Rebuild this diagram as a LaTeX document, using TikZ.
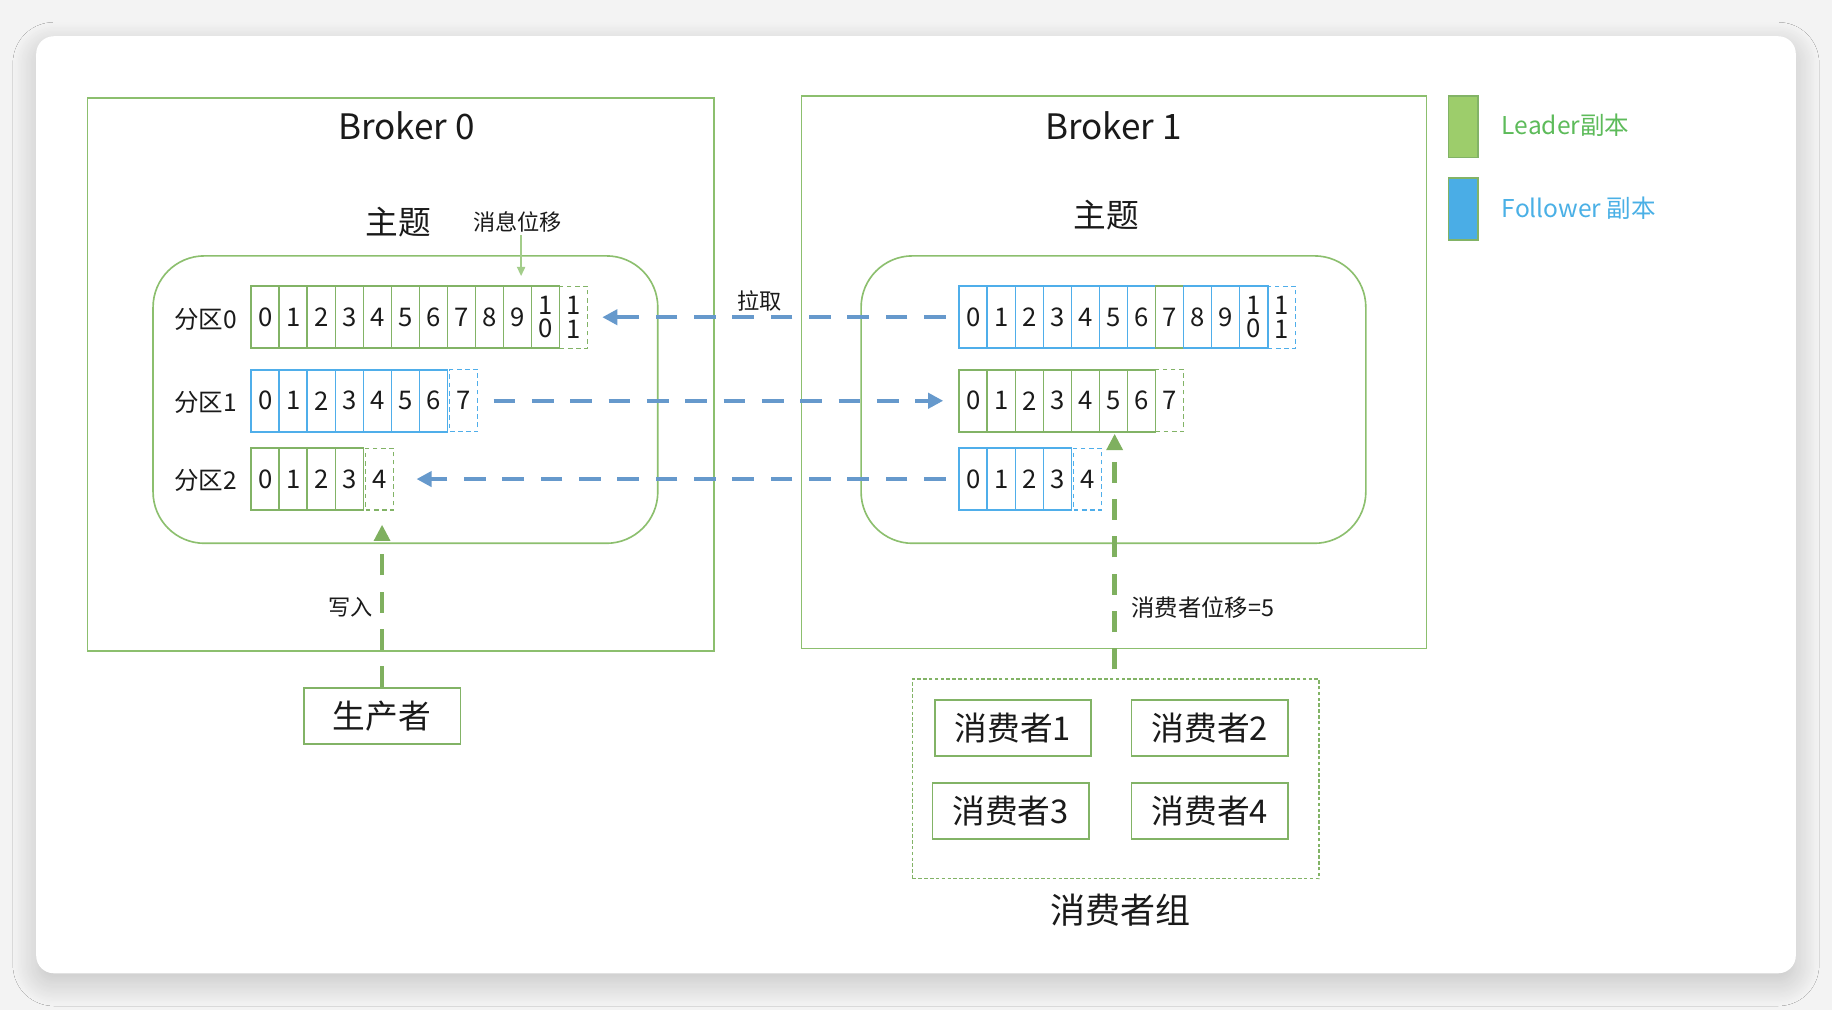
\documentclass[tikz,border=0pt]{standalone}
\usepackage{fontspec}
\setmainfont{Noto Sans CJK SC}
\usetikzlibrary{arrows.meta,shadows.blur,calc}
\definecolor{gline}{HTML}{8CBF6E}
\definecolor{gcell}{HTML}{82B366}
\definecolor{bcell}{HTML}{4FAEEA}
\definecolor{barrow}{HTML}{6699CC}
\definecolor{garrow}{HTML}{7FB05F}
\definecolor{lgfill}{HTML}{9DCD6B}
\definecolor{lbfill}{HTML}{4AADE6}
\definecolor{lgtext}{HTML}{5DBB5A}
\definecolor{lbtext}{HTML}{4AB0E6}
\definecolor{msgarrow}{HTML}{A3CD8A}
\definecolor{txt}{HTML}{1A1A1A}
\definecolor{outerbg}{HTML}{F3F3F3}
\begin{document}
\begin{tikzpicture}[x=0.5pt,y=-0.5pt,
  cellbox/.style={minimum width=12pt,minimum height=26.5pt,inner sep=0pt,line width=0.7pt,
    text=txt,font=\fontsize{11pt}{10pt}\selectfont,align=center},
  gc/.style={cellbox,draw=gcell},
  bc/.style={cellbox,draw=bcell},
  gd/.style={cellbox,draw=gcell,dash pattern=on 2pt off 1.5pt,line width=0.5pt},
  bd/.style={cellbox,draw=bcell,dash pattern=on 2pt off 1.5pt,line width=0.5pt},
  broker/.style={draw=gline,line width=0.6pt,minimum height=236.5pt,inner sep=0pt},
  topicbox/.style={draw=gline,line width=0.7pt,rounded corners=22pt,minimum width=216pt,minimum height=123pt,inner sep=0pt},
  plainbox/.style={draw=gcell,line width=0.7pt,minimum width=67pt,minimum height=24pt,inner sep=0pt,
    font=\fontsize{14pt}{16pt}\selectfont,text=txt},
  lbl/.style={text=txt,inner sep=1pt},
  barr/.style={draw=barrow,line width=1.7pt,dash pattern=on 9.3pt off 7.1pt,-{Triangle[length=6.5pt,width=6.5pt]}},
  garr/.style={draw=garrow,line width=2pt,dash pattern=on 9pt off 7pt,-{Triangle[length=7pt,width=6.7pt]}}
]
\useasboundingbox (0,0) rectangle (1568,864.4);
\fill[outerbg] (0,0) rectangle (1568,864.4);
\path[fill=white,rounded corners=7.5pt,blur shadow={shadow xshift=0pt,shadow yshift=-4pt,shadow blur radius=10pt,shadow blur steps=20,shadow opacity=20}]
  (31,31) rectangle (1537,833);

% brokers
\node[broker,minimum width=268pt] (b0) at (343,320.5) {};
\node[broker,minimum width=267.5pt] (b1) at (953.5,318.5) {};
\node[lbl,font=\fontsize{15pt}{17pt}\selectfont] (b0t) at (348,108) {Broker 0};
\node[lbl,font=\fontsize{15pt}{17pt}\selectfont] (b1t) at (953,108) {Broker 1};

% topic boxes
\node[topicbox] (t0) at (347,342) {};
\node[topicbox] (t1) at (953,342) {};
\node[lbl,font=\fontsize{14pt}{16pt}\selectfont] (z0) at (341,190) {主题};
\node[lbl,font=\fontsize{14pt}{16pt}\selectfont] (z1) at (947,184) {主题};
\node[lbl,font=\fontsize{9.5pt}{11pt}\selectfont] (msgoff) at (443,190) {消息位移};

% row labels
\node[lbl,font=\fontsize{10.5pt}{12pt}\selectfont] (p0) at (176,273) {分区0};
\node[lbl,font=\fontsize{10.5pt}{12pt}\selectfont] (p1) at (176,344) {分区1};
\node[lbl,font=\fontsize{10.5pt}{12pt}\selectfont] (p2) at (176,411) {分区2};

% left cells
\foreach \i in {0,...,9} \node[gc] (L0-\i) at (227+24*\i,271.5) {\i};
\node[gc] (L0-10) at (467,271.5) {1\\0};
\node[gd] (L0-11) at (491,271.5) {1\\1};
\foreach \i in {0,...,6} \node[bc] (L1-\i) at (227+24*\i,343) {\i};
\node[bd] (L1-7) at (397,343) {7};
\foreach \i in {0,...,3} \node[gc] (L2-\i) at (227+24*\i,410) {\i};
\node[gd] (L2-4) at (325,410) {4};

% right cells
\foreach \i in {0,...,6} \node[bc] (R0-\i) at (833+24*\i,271.5) {\i};
\node[gc] (R0-7) at (1001,271.5) {7};
\foreach \i in {8,9} \node[bc] (R0-\i) at (833+24*\i,271.5) {\i};
\node[bc] (R0-10) at (1073,271.5) {1\\0};
\node[bd] (R0-11) at (1097,271.5) {1\\1};
\foreach \i in {0,...,6} \node[gc] (R1-\i) at (833+24*\i,343) {\i};
\node[gd] (R1-7) at (1001,343) {7};
\foreach \i in {0,...,3} \node[bc] (R2-\i) at (833+24*\i,410) {\i};
\node[bd] (R2-4) at (931,410) {4};

% message offset arrow
\draw[draw=msgarrow,line width=0.8pt,-{Triangle[length=4pt,width=3.5pt]},shorten >=4pt]
  ([xshift=1.5pt]msgoff.south) -- ([xshift=1.5pt]msgoff.south |- L0-10.north);

% fetch arrows
\draw[barr,shorten <=5.5pt,shorten >=6pt] (R0-0.west) -- (L0-11.east);
\node[lbl,font=\fontsize{9.5pt}{11pt}\selectfont] (pull) at (650,258) {拉取};
\draw[barr,shorten <=6.5pt,shorten >=6.5pt] (L1-7.east) -- (R1-0.west);
\draw[barr,shorten <=5.5pt,shorten >=9.5pt] (R2-0.west) -- (L2-4.east);

% producer
\node[plainbox] (prod) at (327,613) {生产者};
\draw[garr,shorten >=6pt] (prod.north) -- (prod.north |- L2-4.south);
\node[lbl,font=\fontsize{9.5pt}{11pt}\selectfont] (write) at (300,520) {写入};

% consumer group
\node[draw=gcell,line width=0.6pt,dash pattern=on 1.5pt off 1pt,minimum width=174pt,minimum height=85.5pt,inner sep=0pt] (grp) at (955,666.5) {};
\node[plainbox] (c1) at (867,623) {消费者1};
\node[plainbox] (c2) at (1035.5,623) {消费者2};
\node[plainbox] (c3) at (865,694) {消费者3};
\node[plainbox] (c4) at (1035.5,694) {消费者4};
\node[lbl,font=\fontsize{15pt}{17pt}\selectfont] (grpt) at (959,779) {消费者组};
\coordinate (gtop) at (954,581);
\draw[garr,shorten <=4pt,shorten >=0.5pt] (gtop) -- (gtop |- R1-5.south);
\node[lbl,font=\fontsize{10pt}{11pt}\selectfont,anchor=west] (coff) at (966,520) {消费者位移=5};

% legend
\node[draw=gcell,fill=lgfill,line width=0.6pt,minimum width=12.5pt,minimum height=26.5pt,inner sep=0pt] (lg) at (1252.5,108.5) {};
\node[draw=gcell,fill=lbfill,line width=0.6pt,minimum width=12.5pt,minimum height=26.5pt,inner sep=0pt] (lb) at (1252.5,179) {};
\node[anchor=west,text=lgtext,inner sep=0pt,font=\fontsize{10.5pt}{12pt}\selectfont] (lgt) at (1285,107) {Leader副本};
\node[anchor=west,text=lbtext,inner sep=0pt,font=\fontsize{10.5pt}{12pt}\selectfont] (lbt) at (1285,178) {Follower 副本};
\end{tikzpicture}
\end{document}
